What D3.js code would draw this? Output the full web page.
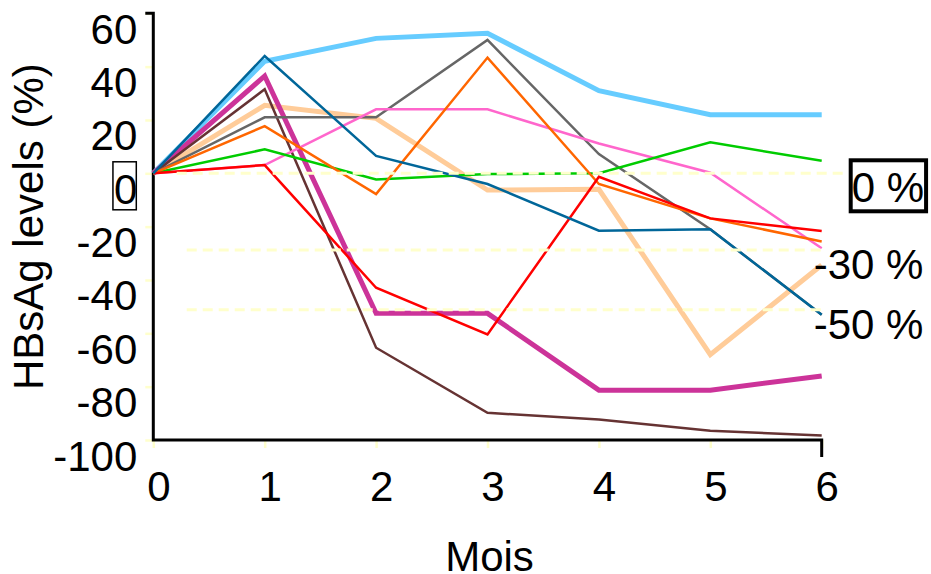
<!DOCTYPE html>
<html>
<head>
<meta charset="utf-8">
<script src="https://cdn.jsdelivr.net/npm/d3@7"></script>
<style>
  body { margin: 0; background: #fff; }
  text { font-family: "Liberation Sans", Arial, sans-serif; }
</style>
</head>
<body>
<div id="chart"></div>
<script>
// months on the x axis
var months = [0, 1, 2, 3, 4, 5, 6];
var yTicks = [60, 40, 20, 0, -20, -40, -60, -80, -100];

// HBsAg change per patient (%), one array per line
var lightBlue = [0, 42, 50.6, 52.5, 31, 22, 22];
var peach     = [0, 25.5, 20.6, -6.3, -6, -68, -34.4];
var magenta   = [0, 36.5, -52.5, -52.5, -81.3, -81.3, -76];
var brown     = [0, 31.5, -65.4, -89.8, -92.3, -96.5, -98.3];
var gray      = [0, 21, 21, 50, 7.2, -21, -53];
var pink      = [0, 3.1, 24, 24, 11.2, 0.2, -28.1];
var green     = [0, 9, -2.3, -0.3, 0, 11.6, 4.7];
var orange    = [0, 17.7, -7.8, 43.4, -4, -16.9, -25.6];
var red       = [0, 3.1, -42.9, -60.4, -1.3, -16.9, -21.6];
var darkBlue  = [0, 44, 6.5, -4, -21.5, -21, -53];

// reference lines
var refLabels = ["0 %", "-30 %", "-50 %"];
var refValues = [0, -28.8, -51.2];

var series = [lightBlue, peach, magenta, brown, gray, pink, green, orange, red, darkBlue];
var colors = ["#66ccff", "#ffcc99", "#cc3399", "#663333", "#666666", "#ff66cc", "#00cc00", "#ff6600", "#ff0000", "#006699"];
var widths = [5, 5, 5, 2.5, 2.5, 2.5, 2.5, 2.5, 2.5, 2.5];

var width = 931, height = 574;
var x0 = 153.3, x1 = 821.7, yTop = 13.3, yBot = 440;
var fs = 42;

var x = d3.scaleLinear().domain([0, 6]).range([x0, x1]);
var y = d3.scaleLinear().domain([-100, 60]).range([yBot, yTop]);

var svg = d3.select("#chart").append("svg")
            .attr("width", width)
            .attr("height", height);

// axes
var yAxis = svg.append("g")
    .attr("transform", "translate(" + x0 + ",0)")
    .call(d3.axisLeft(y).tickValues(yTicks).tickSize(8).tickSizeOuter(0).tickFormat(d => String(d)));
yAxis.select(".domain").remove();
yAxis.selectAll(".tick line").attr("stroke", "#ffffcc").attr("stroke-width", 2.5);
yAxis.selectAll(".tick text")
    .attr("x", -16).attr("dy", "0.714em")
    .attr("font-size", fs).attr("fill", "#000")
    .style("font-family", "'Liberation Sans', Arial, sans-serif");

var xAxis = svg.append("g")
    .attr("transform", "translate(0," + yBot + ")")
    .call(d3.axisBottom(x).tickValues(months).tickSize(8).tickSizeOuter(0).tickFormat(d => String(d)));
xAxis.select(".domain").remove();
xAxis.selectAll(".tick line").attr("stroke", "#ffffcc").attr("stroke-width", 2.5);
xAxis.selectAll(".tick text")
    .attr("y", 31.5).attr("dx", 5)
    .attr("font-size", fs).attr("fill", "#000")
    .style("font-family", "'Liberation Sans', Arial, sans-serif");

// box round the 0 tick label
yAxis.selectAll(".tick").filter(d => d === 0).each(function() {
    var t = d3.select(this).select("text");
    var bb = t.node().getBBox();
    d3.select(this).append("rect")
        .attr("x", bb.x - 1).attr("y", bb.y - 4)
        .attr("width", bb.width).attr("height", bb.height + 1)
        .attr("fill", "none").attr("stroke", "#000").attr("stroke-width", 1.5);
});

// axis lines
svg.append("path")
    .attr("d", "M" + (x0 - 8) + "," + y(60) + "H" + x0 + "V" + yBot + "H" + x1 + "V" + (yBot + 17))
    .attr("fill", "none").attr("stroke", "#000").attr("stroke-width", 3);

// data lines
var line = d3.line()
    .x((d, i) => x(months[i]))
    .y(d => y(d));

svg.selectAll(".series")
    .data(series)
    .enter()
    .append("path")
    .attr("class", "series")
    .attr("d", line)
    .attr("fill", "none")
    .attr("stroke", (d, i) => colors[i])
    .attr("stroke-width", (d, i) => widths[i])
    .attr("stroke-linejoin", "miter");

// dashed reference lines, drawn over the data
var refStart = [0.21, 0.3, 0.3];
var refEnd = [6.23, 6, 6];
svg.selectAll(".ref")
    .data(refValues)
    .enter()
    .append("line")
    .attr("class", "ref")
    .attr("x1", (d, i) => x(refStart[i]))
    .attr("x2", (d, i) => x(refEnd[i]))
    .attr("y1", d => y(d))
    .attr("y2", d => y(d))
    .attr("stroke", "#ffffcc")
    .attr("stroke-width", 3)
    .attr("stroke-dasharray", "10,6");

// labels at the right
var labelDx = [30, -8, -8];
svg.selectAll(".refLabel")
    .data(refValues)
    .enter()
    .append("text")
    .attr("class", "refLabel")
    .attr("x", (d, i) => x(6) + labelDx[i])
    .attr("y", d => y(d))
    .attr("dy", "0.69em")
    .attr("font-size", fs)
    .text((d, i) => refLabels[i]);

var zeroLabel = svg.select(".refLabel").node().getBBox();
svg.append("rect")
    .attr("x", zeroLabel.x - 1).attr("y", zeroLabel.y - 4)
    .attr("width", zeroLabel.width + 3).attr("height", zeroLabel.height + 4)
    .attr("fill", "none").attr("stroke", "#000").attr("stroke-width", 4);

// axis titles
svg.append("text")
    .attr("x", (x0 + x1) / 2 + 2)
    .attr("y", 571)
    .attr("text-anchor", "middle")
    .attr("font-size", fs)
    .text("Mois");

svg.append("text")
    .attr("transform", "translate(43," + ((yTop + yBot) / 2) + ") rotate(-90)")
    .attr("text-anchor", "middle")
    .attr("font-size", 42)
    .text("HBsAg levels (%)");
</script>
</body>
</html>
